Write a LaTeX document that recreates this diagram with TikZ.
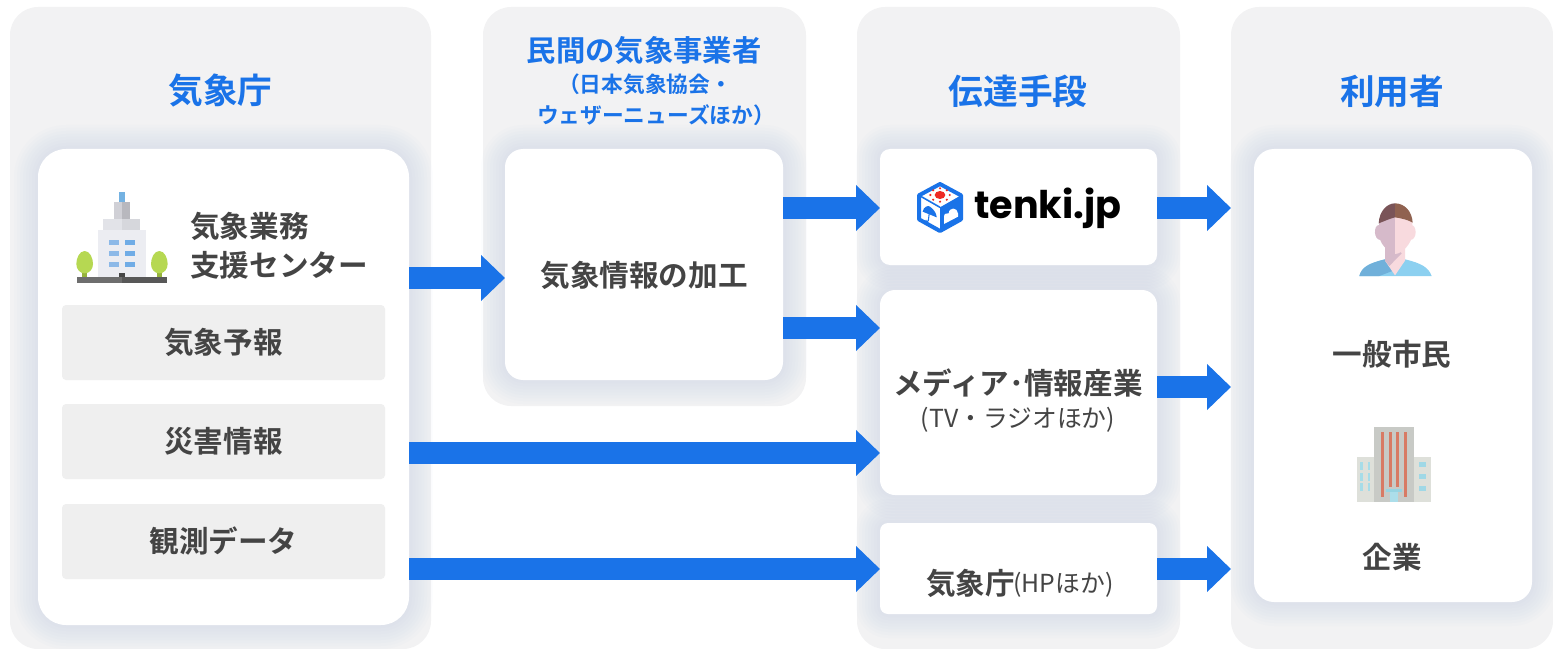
\documentclass[tikz,border=0pt]{standalone}
\usepackage{fontspec}
\setmainfont{Noto Sans CJK JP}[BoldFont={Noto Sans CJK JP Bold}]
\newfontfamily\logofont{Poppins}[BoldFont={Poppins Bold}]
\usetikzlibrary{arrows.meta}
\definecolor{panelc}{HTML}{F2F2F3}
\definecolor{glowc}{HTML}{A9BEE0}
\definecolor{grayc}{HTML}{EFEFEF}
\definecolor{bluec}{HTML}{1A73E8}
\definecolor{darkc}{HTML}{444444}
\definecolor{sunc}{HTML}{EE2A24}
\newcommand{\fsz}[1]{\fontsize{#1}{#1}\selectfont}
\newcommand{\panelbox}[6]{%
  \pgfmathsetmacro\cxx{(#2+#4)/2}\pgfmathsetmacro\cyy{(#3+#5)/2}%
  \pgfmathsetmacro\ww{(#4-#2)*.75}\pgfmathsetmacro\hh{(#5-#3)*.75}\pgfmathsetmacro\rr{#6*.75}%
  \node[boxshape,fill=panelc,minimum width=\ww pt,minimum height=\hh pt,rounded corners=\rr pt] (#1) at (\cxx,\cyy) {};}
\newcommand{\whitebox}[6]{%
  \foreach \e in {24,21,18,15,12,9,6,3}{%
    \pgfmathsetmacro\rr{(#6+\e)*.75}%
    \fill[glowc,opacity=.032,rounded corners=\rr pt] ({#2-\e},{#3-\e}) rectangle ({#4+\e},{#5+\e});}%
  \pgfmathsetmacro\cxx{(#2+#4)/2}\pgfmathsetmacro\cyy{(#3+#5)/2}%
  \pgfmathsetmacro\ww{(#4-#2)*.75}\pgfmathsetmacro\hh{(#5-#3)*.75}\pgfmathsetmacro\rr{#6*.75}%
  \node[boxshape,fill=white,minimum width=\ww pt,minimum height=\hh pt,rounded corners=\rr pt] (#1) at (\cxx,\cyy) {};}
\newcommand{\graybox}[6]{%
  \pgfmathsetmacro\cxx{(#2+#4)/2}\pgfmathsetmacro\cyy{(#3+#5)/2}%
  \pgfmathsetmacro\ww{(#4-#2)*.75}\pgfmathsetmacro\hh{(#5-#3)*.75}\pgfmathsetmacro\rr{#6*.75}%
  \node[boxshape,fill=grayc,minimum width=\ww pt,minimum height=\hh pt,rounded corners=\rr pt] (#1) at (\cxx,\cyy) {};}
\tikzset{
  boxshape/.style={rectangle,inner sep=0pt,outer sep=0pt,draw=none},
  title/.style={text=bluec,font=\bfseries\fsz{26},inner sep=0pt,anchor=center},
  subtitle/.style={text=bluec,font=\bfseries\fsz{16.3},inner sep=0pt,anchor=center},
  body/.style={text=darkc,font=\bfseries\fsz{22.2},inner sep=0pt,anchor=center},
  small/.style={text=darkc,font=\fsz{18.6},inner sep=0pt},
  flow/.style={bluec,line width=16.5pt,-{Triangle[length=18pt,width=33.5pt]},shorten >=0pt},
}
\begin{document}
\begin{tikzpicture}[x=.75pt,y=-.75pt]
\useasboundingbox (0,0) rectangle (1553,649);
% panels
\panelbox{p1}{10}{7}{431}{649}{28}
\panelbox{p2}{483}{7}{806}{406}{28}
\panelbox{p3}{857}{7}{1180}{649}{28}
\panelbox{p4}{1231}{7}{1553}{649}{28}
% white boxes
\whitebox{jma}{38}{149}{409}{625}{28}
\whitebox{proc}{505}{149}{783}{380}{18}
\whitebox{tenki}{880}{149}{1157}{265}{10}
\whitebox{media}{880}{290}{1157}{495}{15}
\whitebox{hp}{880}{523}{1157}{614}{8}
\whitebox{users}{1254}{149}{1532}{602}{20}
% gray boxes
\graybox{g1}{62}{305}{385}{380}{4}
\graybox{g2}{62}{404}{385}{479}{4}
\graybox{g3}{62}{504}{385}{579}{4}
% titles
\node[title] (t1) at (220.5,91) {気象庁};
\node[title,font=\bfseries\fsz{22}] (t2a) at (644,51) {民間の気象事業者};
\node[subtitle] (t2b) at (645,84) {（日本気象協会・};
\node[subtitle] (t2c) at (656,115) {ウェザーニューズほか）};
\node[title] (t3) at (1018,91) {伝達手段};
\node[title] (t4) at (1392,91) {利用者};
% body
\node[body,anchor=west] (b1) at (190,226) {気象業務};
\node[body,anchor=west] (b2) at (190,265) {支援センター};
\node[body] (g1t) at (g1) {気象予報};
\node[body] (g2t) at (g2) {災害情報};
\node[body] (g3t) at (g3) {観測データ};
\node[body] (proct) at (644,275) {気象情報の加工};
\node[body] (mediat) at (1018,383) {メディア･情報産業};
\node[small] (medias) at (1018,420) {(TV・ラジオほか)};
\node[body,anchor=west] (hpt) at (926,583) {気象庁};
\node[small,anchor=west] (hps) at (1013,585) {(HPほか)};
\node[body] (u1) at (1392,354) {一般市民};
\node[body] (u2) at (1392,557) {企業};
\node[inner sep=0pt,anchor=west,text=black,font=\logofont\bfseries\fsz{28.6}] (logo) at (974,208) {tenki.jp};
% arrows
\coordinate (y1) at (0,278);
\coordinate (y2) at (0,208);
\coordinate (y3) at (0,328);
\coordinate (y4) at (0,387);
\coordinate (y5) at (0,569);
\coordinate (y6) at (0,453);
\draw[flow] (jma.east|-y1) -- (proc.west|-y1);
\draw[flow] (proc.east|-y2) -- (tenki.west|-y2);
\draw[flow] (proc.east|-y3) -- (media.west|-y3);
\draw[flow] (jma.east|-y6) -- (media.west|-y6);
\draw[flow] (jma.east|-y5) -- (hp.west|-y5);
\draw[flow] (tenki.east|-y2) -- (p4.west|-y2);
\draw[flow] (media.east|-y4) -- (p4.west|-y4);
\draw[flow] (hp.east|-y5) -- (p4.west|-y5);
% building icon
\begin{scope}[shift={(60,170)},x=.25pt,y=-.25pt]
 \fill[color={rgb,255:red,116;green,178;blue,226}] (178,65) rectangle (194,96);
 \fill[color={rgb,255:red,208;green,208;blue,214}] (162,96) rectangle (186,146);
 \fill[color={rgb,255:red,184;green,184;blue,190}] (186,96) rectangle (210,146);
 \fill[color={rgb,255:red,226;green,227;blue,232}] (130,146) rectangle (186,180);
 \fill[color={rgb,255:red,214;green,215;blue,220}] (186,146) rectangle (241,180);
 \fill[color={rgb,255:red,236;green,237;blue,242}] (113,180) rectangle (258,322);
 \foreach \yy in {211,243,276}{
  \fill[color={rgb,255:red,140;green,185;blue,232}] (146,\yy) rectangle (178,\yy+15);
  \fill[color={rgb,255:red,112;green,172;blue,230}] (194,\yy) rectangle (226,\yy+15);}
 \foreach \xx in {74,298}{
  \fill[color={rgb,255:red,150;green,180;blue,60}] (\xx-7,290) rectangle (\xx+7,322);
  \fill[color={rgb,255:red,182;green,216;blue,82}] (\xx,243) .. controls (\xx+16,243) and (\xx+25,265) .. (\xx+25,282) .. controls (\xx+25,298) and (\xx+14,310) .. (\xx,310) .. controls (\xx-14,310) and (\xx-25,298) .. (\xx-25,282) .. controls (\xx-25,265) and (\xx-16,243) .. (\xx,243) -- cycle;}
 \fill[color={rgb,255:red,110;green,110;blue,110}] (50,322) rectangle (186,340);
 \fill[color={rgb,255:red,88;green,88;blue,88}] (186,322) rectangle (322,340);
 \fill[color={rgb,255:red,70;green,70;blue,70}] (178,308) rectangle (194,322);
\end{scope}
% person icon
\begin{scope}[shift={(1300,190)},x=.25pt,y=-.25pt]
 % shoulders
 \fill[color={rgb,255:red,140;green,208;blue,240}] (178,258) .. controls (185,232) and (205,220) .. (255,208) -- (315,208) .. controls (365,220) and (385,232) .. (395,258) -- cycle;
 \fill[color={rgb,255:red,112;green,176;blue,218}] (178,258) .. controls (185,232) and (205,220) .. (255,208) -- (285,240) -- (238,258) -- cycle;
 % neck
 \fill[color={rgb,255:red,248;green,218;blue,222}] (255,170) -- (315,170) -- (315,212) -- (285,256) -- (255,212) -- cycle;
 \fill[color={rgb,255:red,214;green,186;blue,202}] (255,170) -- (285,170) -- (305,190) -- (268,228) -- (255,212) -- cycle;
 % ears and face
 \fill[color={rgb,255:red,214;green,186;blue,202}] (237,105) .. controls (220,105) and (220,150) .. (242,150) -- (250,150) -- (250,105) -- cycle;
 \fill[color={rgb,255:red,248;green,218;blue,222}] (333,105) .. controls (352,105) and (352,150) .. (330,150) -- (320,150) -- (320,105) -- cycle;
 \fill[color={rgb,255:red,214;green,186;blue,202}] (237,95) -- (285,80) -- (285,192) .. controls (262,185) and (237,160) .. (237,130) -- cycle;
 \fill[color={rgb,255:red,248;green,218;blue,222}] (285,80) -- (337,95) -- (337,130) .. controls (337,160) and (305,192) .. (285,192) -- cycle;
 % hair
 \fill[color={rgb,255:red,122;green,84;blue,88}] (236,100) .. controls (238,62) and (262,40) .. (285,40) -- (285,82) .. controls (268,86) and (250,95) .. (236,100) -- cycle;
 \fill[color={rgb,255:red,144;green,98;blue,80}] (285,40) .. controls (312,40) and (336,62) .. (338,98) .. controls (325,90) and (305,85) .. (285,82) -- cycle;
\end{scope}
% company icon
\begin{scope}[shift={(1330,415)},x=.25pt,y=-.25pt]
 \fill[color={rgb,255:red,222;green,224;blue,218}] (80,126) rectangle (303,262);
 \fill[color={rgb,255:red,200;green,202;blue,198}] (133,36) rectangle (251,262);
 \foreach \xx in {153,222}{\fill[color={rgb,255:red,216;green,122;blue,100}] (\xx,50) rectangle (\xx+9,246);}
 \foreach \xx in {177,198}{\fill[color={rgb,255:red,216;green,122;blue,100}] (\xx,50) rectangle (\xx+9,215);}
 \fill[color={rgb,255:red,150;green,212;blue,226}] (168,223) rectangle (216,232);
 \fill[color={rgb,255:red,172;green,222;blue,234}] (180,232) rectangle (204,262);
 \foreach \yy in {141,175,205}{
  \fill[color={rgb,255:red,166;green,220;blue,232}] (90,\yy) rectangle (98,\yy+23);
  \fill[color={rgb,255:red,166;green,220;blue,232}] (113,\yy) rectangle (121,\yy+23);}
 \foreach \yy in {141,177,212}{\fill[color={rgb,255:red,160;green,216;blue,230}] (266,\yy) rectangle (289,\yy+15);}
\end{scope}
% tenki logo icon
\begin{scope}[shift={(880,150)},x=.25pt,y=-.25pt]
 \draw[bluec,line width=3pt,line join=round,fill=white] (180,102) -- (243,136) -- (243,208) -- (180,243) -- (117,208) -- (117,136) -- cycle;
 \fill[bluec,line join=round] (243,136) -- (243,208) -- (180,243) -- (180,172) -- cycle;
 \draw[bluec,line width=1.2pt] (117,136) -- (180,172);
 \fill[sunc] (180,135) ellipse (16 and 12);
 \foreach \a in {0,45,...,315}{\fill[sunc] ({180+29*cos(\a)},{135+20*sin(\a)}) circle (3.5);}
 \fill[bluec] (128,185) .. controls (130,170) and (145,165) .. (150,170) .. controls (165,180) and (170,195) .. (170,202) -- (128,185) -- cycle;
 \draw[bluec,line width=.8pt] (148,188) -- (145,212) .. controls (143,218) and (137,216) .. (137,210);
 \fill[white] (192,222) -- (192,200) .. controls (192,190) and (200,190) .. (206,190) .. controls (208,170) and (232,172) .. (234,190) -- (234,200) -- cycle;
\end{scope}
\end{tikzpicture}
\end{document}
